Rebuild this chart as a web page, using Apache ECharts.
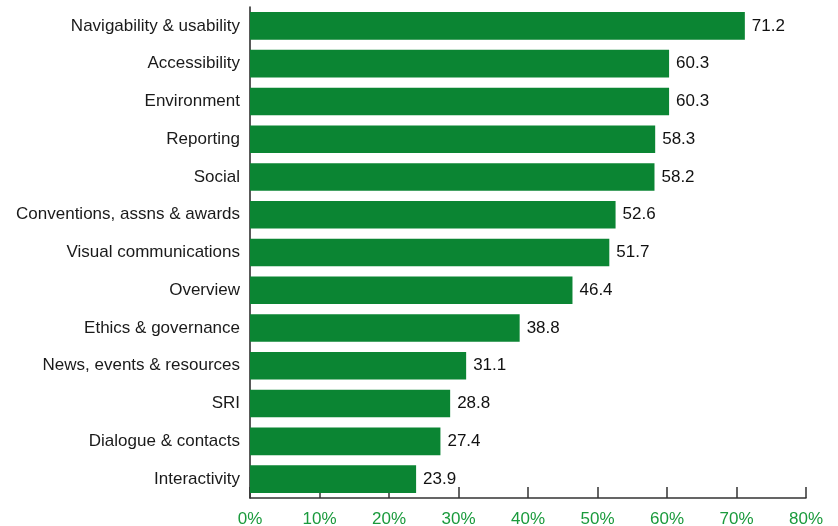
<!DOCTYPE html>
<html>
<head>
<meta charset="utf-8">
<script src="https://cdn.jsdelivr.net/npm/echarts@6/dist/echarts.min.js"></script>
<style>
  html, body { margin: 0; padding: 0; background: #fff; }
  #chart { width: 838px; height: 526px; }
</style>
</head>
<body>
<div id="chart"></div>
<script>
// Share of sites covering each category (%)
const categories = [
  'Navigability & usability',
  'Accessibility',
  'Environment',
  'Reporting',
  'Social',
  'Conventions, assns & awards',
  'Visual communications',
  'Overview',
  'Ethics & governance',
  'News, events & resources',
  'SRI',
  'Dialogue & contacts',
  'Interactivity'
];
const values = [71.2, 60.3, 60.3, 58.3, 58.2, 52.6, 51.7, 46.4, 38.8, 31.1, 28.8, 27.4, 23.9];
const xTicks = { min: 0, max: 80, interval: 10 };

const chart = echarts.init(document.getElementById('chart'), null, { renderer: 'canvas' });
const font = 'Liberation Sans, Arial, sans-serif';

chart.setOption({
  animation: false,
  grid: {
    left: 250, right: 32, top: 7, bottom: 28,
    containLabel: false,
    outerBoundsMode: 'none'
  },
  xAxis: {
    type: 'value',
    min: xTicks.min,
    max: xTicks.max,
    interval: xTicks.interval,
    axisLine: { show: true, lineStyle: { color: '#333', width: 1.5 } },
    axisTick: { show: true, inside: true, length: 11, lineStyle: { color: '#333', width: 1.5 } },
    splitLine: { show: false },
    axisLabel: {
      formatter: '{value}%',
      color: '#1a9a3c',
      fontFamily: font,
      fontSize: 17,
      margin: 13
    }
  },
  yAxis: {
    type: 'category',
    data: categories,
    inverse: true,
    axisLine: { show: true, lineStyle: { color: '#222', width: 1.5 } },
    axisTick: { show: false },
    axisLabel: {
      color: '#1a1a1a',
      fontFamily: font,
      fontSize: 17,
      margin: 10
    }
  },
  series: [{
    type: 'bar',
    data: values,
    barCategoryGap: '27%',
    itemStyle: { color: '#0b8533' },
    label: {
      show: true,
      position: 'right',
      distance: 7,
      color: '#111',
      fontFamily: font,
      fontSize: 17,
      formatter: p => p.value.toFixed(1)
    }
  }]
});
</script>
</body>
</html>
